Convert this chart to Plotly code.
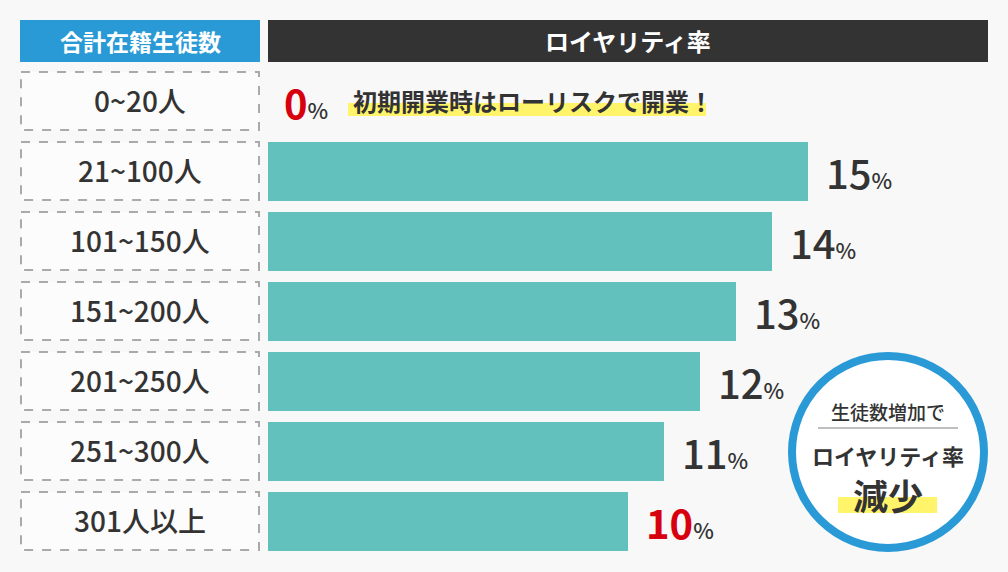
import plotly.graph_objects as go

W, H = 1008, 572
FONT = "Noto Sans CJK JP"

# ---- data ----
categories = ["0~20人", "21~100人", "101~150人", "151~200人", "201~250人", "251~300人", "301人以上"]
royalty = [0, 15, 14, 13, 12, 11, 10]
highlight_color = {0: "#d7000f", 10: "#d7000f"}
header_left = "合計在籍生徒数"
header_right = "ロイヤリティ率"
note_text = "初期開業時はローリスクで開業！"
bubble_lines = ["生徒数増加で", "ロイヤリティ率", "減少"]

BG = "#f8f8f8"
BAR = "#62c1bc"
DARK = "#333333"
BLUE = "#2a9ad6"


def px(x):
    return x / W


def py(y):
    return 1 - y / H


idx = list(range(len(categories)))

fig = go.Figure()
fig.add_trace(go.Bar(
    x=[v if v > 0 else None for v in royalty],
    y=idx,
    orientation="h",
    marker=dict(color=BAR, line=dict(width=0)),
    width=0.843,
    hoverinfo="skip",
))

shapes = []
annotations = []

# headers
shapes.append(dict(type="rect", xref="paper", yref="paper", x0=px(20), x1=px(260), y0=py(62), y1=py(20),
                   fillcolor=BLUE, line=dict(width=0), layer="below"))
shapes.append(dict(type="rect", xref="paper", yref="paper", x0=px(268), x1=px(988), y0=py(62), y1=py(20),
                   fillcolor="#333333", line=dict(width=0), layer="below"))
annotations.append(dict(xref="paper", yref="paper", x=px(140), y=py(41), text="<b>" + header_left + "</b>",
                        showarrow=False, font=dict(family=FONT, size=23, color="white"),
                        xanchor="center", yanchor="middle"))
annotations.append(dict(xref="paper", yref="paper", x=px(628), y=py(41), text="<b>" + header_right + "</b>",
                        showarrow=False, font=dict(family=FONT, size=24, color="white"),
                        xanchor="center", yanchor="middle"))

# category boxes
for i, c in enumerate(categories):
    shapes.append(dict(type="rect", xref="paper", yref="y", x0=px(21), x1=px(259),
                       y0=i - 0.415, y1=i + 0.415, fillcolor="#fcfcfc",
                       line=dict(color="#aaaaaa", width=2, dash="dash"), layer="below"))
    annotations.append(dict(xref="paper", yref="y", x=px(140), y=i, text=c, showarrow=False,
                            font=dict(family=FONT, size=28, color=DARK, weight=500),
                            xanchor="center", yanchor="middle", yshift=1))

# value labels
for i, v in enumerate(royalty):
    col = highlight_color.get(v, DARK)
    if v in highlight_color:
        num = "<b><span style='font-size:40px;color:%s'>%d</span></b>" % (col, v)
    else:
        num = "<span style='font-size:40px;color:%s'>%d</span>" % (col, v)
    txt = num + "<span style='font-size:22px;color:%s'>%%</span>" % DARK
    annotations.append(dict(xref="x", yref="y", x=v, y=i, text=txt, showarrow=False,
                            xanchor="left", yanchor="middle", xshift=16 if v > 0 else 14, yshift=-1,
                            font=dict(family=FONT, size=40, color=DARK, weight=500)))

# note on first row with yellow highlight
shapes.append(dict(type="rect", xref="paper", yref="paper", x0=px(348), x1=px(706), y0=py(116), y1=py(103),
                   fillcolor="#fff46a", line=dict(width=0), layer="below"))
annotations.append(dict(xref="paper", yref="y", x=px(351), y=0, text="<b>" + note_text + "</b>",
                        showarrow=False, xanchor="left", yanchor="middle", yshift=1,
                        font=dict(family=FONT, size=24, color=DARK)))

# bubble
shapes.append(dict(type="circle", xref="paper", yref="paper", x0=px(792), x1=px(984), y0=py(548), y1=py(356),
                   fillcolor="white", line=dict(color=BLUE, width=8)))
shapes.append(dict(type="line", xref="paper", yref="paper", x0=px(818), x1=px(958), y0=py(428), y1=py(428),
                   line=dict(color="#aaaaaa", width=1.5)))
shapes.append(dict(type="rect", xref="paper", yref="paper", x0=px(838), x1=px(937), y0=py(513), y1=py(497),
                   fillcolor="#fff46a", line=dict(width=0)))
annotations.append(dict(xref="paper", yref="paper", x=px(888), y=py(411), text=bubble_lines[0],
                        showarrow=False, xanchor="center", yanchor="middle",
                        font=dict(family=FONT, size=19, color=DARK, weight=500)))
annotations.append(dict(xref="paper", yref="paper", x=px(888), y=py(455), text="<b>" + bubble_lines[1] + "</b>",
                        showarrow=False, xanchor="center", yanchor="middle",
                        font=dict(family=FONT, size=22, color=DARK)))
annotations.append(dict(xref="paper", yref="paper", x=px(888), y=py(494), text="<b>" + bubble_lines[2] + "</b>",
                        showarrow=False, xanchor="center", yanchor="middle",
                        font=dict(family=FONT, size=35, color=DARK)))

fig.update_layout(
    width=W, height=H,
    margin=dict(l=0, r=0, t=0, b=0),
    paper_bgcolor=BG, plot_bgcolor="rgba(0,0,0,0)",
    showlegend=False,
    xaxis=dict(domain=[268 / W, 1], range=[0, (W - 268) / 36], visible=False, fixedrange=True),
    yaxis=dict(domain=[0, 1], range=[(H - 101) / 70, -101 / 70], visible=False, fixedrange=True),
    shapes=shapes,
    annotations=annotations,
    bargap=0,
)

fig.write_html("out.html", config={"displayModeBar": False})
